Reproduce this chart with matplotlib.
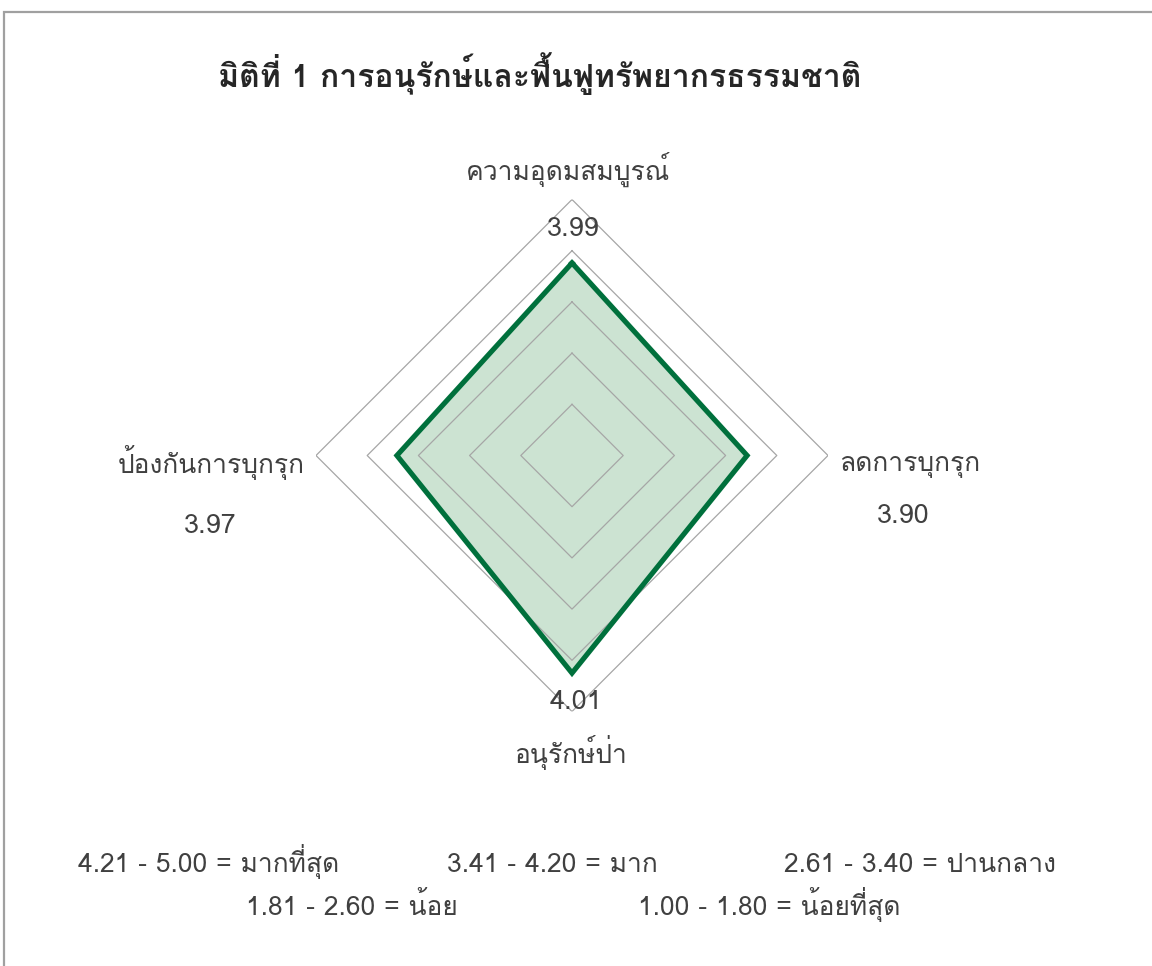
import numpy as np
import matplotlib
matplotlib.use("Agg")
import matplotlib.pyplot as plt
from matplotlib import font_manager
from matplotlib.ft2font import FT2Font
from matplotlib.patches import Rectangle

# === DATA ===
categories = ["ความอุดมสมบูรณ์", "ลดการบุกรุก", "อนุรักษ์ป่า", "ป้องกันการบุกรุก"]
plotted = [3.76, 3.42, 4.25, 3.42]          # polygon as drawn in the chart
value_labels = ["3.99", "3.90", "4.01", "3.97"]
ring_levels = [1, 2, 3, 4, 5]
title = "มิติที่ 1 การอนุรักษ์และฟื้นฟูทรัพยากรธรรมชาติ"
scale_row1 = ["4.21 - 5.00 = มากที่สุด", "3.41 - 4.20 = มาก", "2.61 - 3.40 = ปานกลาง"]
scale_row2 = ["1.81 - 2.60 = น้อย", "1.00 - 1.80 = น้อยที่สุด"]


# find some installed font that has Thai glyphs
def thai_family():
    for f in font_manager.fontManager.ttflist:
        try:
            if 0x0E01 in FT2Font(f.fname).get_charmap():
                return f.name
        except Exception:
            pass
    return None


fam = thai_family()
plt.rcParams["font.family"] = ([fam] if fam else []) + ["DejaVu Sans"]

W, H = 1152, 966
fig = plt.figure(figsize=(W / 100, H / 100), dpi=100, facecolor="white")


def px(x, y):
    return x / W, 1 - y / H


# outer frame
fig.add_artist(Rectangle(px(4, 1000), 1200 / W, 988 / H, transform=fig.transFigure,
                         fill=False, edgecolor="#a0a0a0", lw=1.6))

# === RADAR ===
cx, cy, R = 572, 455.5, 256
ax = fig.add_axes([(cx - R) / W, 1 - (cy + R) / H, 2 * R / W, 2 * R / H], projection="polar")
ax.set_theta_offset(np.pi / 2)
ax.set_theta_direction(-1)
ax.set_ylim(0, ring_levels[-1])
ax.grid(False)
ax.spines["polar"].set_visible(False)
ax.set_xticks([])
ax.set_yticks([])
ax.patch.set_alpha(0)

theta = np.linspace(0, 2 * np.pi, len(categories), endpoint=False)
theta_c = np.append(theta, theta[0])

for lv in ring_levels:
    ax.plot(theta_c, [lv] * len(theta_c), color="#a6a6a6", lw=0.9, zorder=3)

vals = np.append(plotted, plotted[0])
ax.fill(theta_c, vals, color="#cce3d2", zorder=1)
ax.plot(theta_c, vals, color="#00703c", lw=3.7, zorder=4, solid_joinstyle="miter")

# === TEXT ===
tc = "#404040"
fig.text(*px(540, 87), title, ha="center", va="baseline", fontsize=23,
         fontweight="bold", color="#262626")

label_pos = [(568, 180, "center"), (840, 471, "left"), (570, 763, "center"), (305, 473, "right")]
value_pos = [(573, 236), (903, 523), (576, 709), (210, 533)]
for name, (x, y, ha) in zip(categories, label_pos):
    fig.text(*px(x, y), name, ha=ha, va="baseline", fontsize=19, color=tc)
for v, (x, y) in zip(value_labels, value_pos):
    fig.text(*px(x, y), v, ha="center", va="baseline", fontsize=19.5, color=tc)

for s, x in zip(scale_row1, [78, 447, 784]):
    fig.text(*px(x, 872), s, ha="left", va="baseline", fontsize=19, color=tc)
for s, x in zip(scale_row2, [246, 638]):
    fig.text(*px(x, 915), s, ha="left", va="baseline", fontsize=19, color=tc)

fig.savefig("out.png", dpi=100, facecolor="white")
